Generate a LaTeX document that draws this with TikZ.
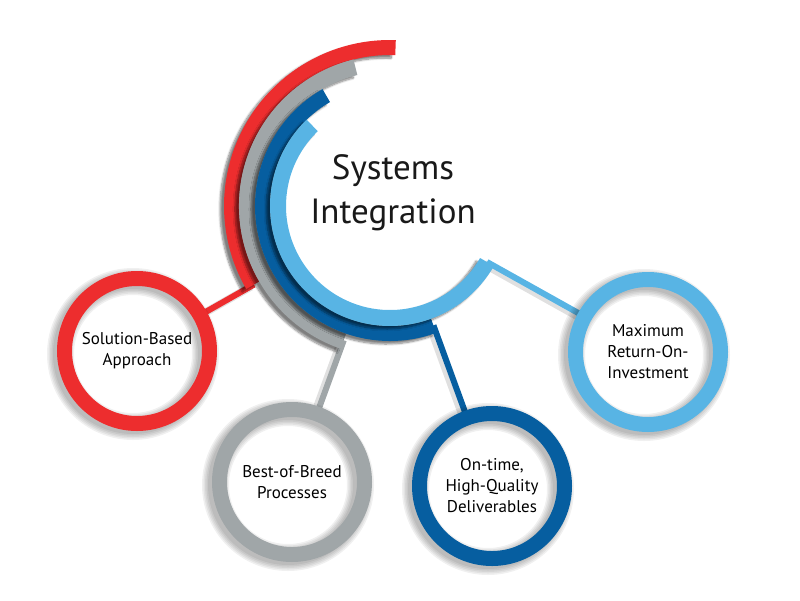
\documentclass[tikz,border=0pt]{standalone}
\usepackage{fontspec}
\setmainfont{PT Sans}
\usetikzlibrary{calc,shadows.blur,backgrounds}
\definecolor{sired}{RGB}{237,45,46}
\definecolor{sigray}{RGB}{160,166,168}
\definecolor{sidblue}{RGB}{6,94,160}
\definecolor{silblue}{RGB}{88,180,228}
\tikzset{
  band/.style={fill=#1,blur shadow={shadow xshift=-4pt,shadow yshift=-3pt,shadow blur steps=8,shadow opacity=50}},
  link/.style={draw=#1,line width=6,shorten >=-5pt,
    preaction={draw=black,draw opacity=.12,line width=8,transform canvas={shift={(-3pt,-2pt)}}}},
  bubble/.style={circle,draw=#1,line width=15,minimum size=145,align=center,
    font=\fontsize{17}{21}\selectfont}
}
\begin{document}
\begin{tikzpicture}[x=1pt,y=-1pt]
  \useasboundingbox (0,0) rectangle (800,600);
  % circles
  \node [bubble=sired] (sol) at (137,351) {Solution-Based\\Approach};
  \node [bubble=sigray] (best) at (292,482) {Best-of-Breed\\Processes};
  \node [bubble=sidblue] (ontime) at (492,486) {On-time,\\High-Quality\\Deliverables};
  \node [bubble=silblue] (roi) at (648,352) {Maximum\\Return-On-\\Investment};
  \node [font=\fontsize{35}{44}\selectfont,align=center,text=black!90] (title) at (393,193) {Systems\\Integration};
  \begin{scope}[on background layer]
    % hub of the arcs
    \coordinate (hub) at (390,206);
    \coordinate (redEnd) at ($(hub)+(-210:157)$);
    \coordinate (grayEnd) at ($(hub)+(-251:142)$);
    \coordinate (dblueEnd) at ($(hub)+(-290:127)$);
    \coordinate (lblueEnd) at ($(hub)+(-330:112)$);
    % connectors
    \draw [link=sired] (redEnd) -- (sol);
    \draw [link=sigray] (grayEnd) -- (best);
    \draw [link=sidblue] (dblueEnd) -- (ontime);
    \draw [link=silblue] (lblueEnd) -- (roi);
    % soft shadows of the rings
    \foreach \n in {sol,best,ontime,roi}
      \foreach \w in {15,18,21,24,27}
        \draw [black,draw opacity=.06,line width=\w] ($(\n.center)+(-4,3)$) circle [radius=72.5];
    % arcs
    \fill [band=sired] (hub) ++(-88:166) arc [start angle=-88,end angle=-210,radius=166]
      -- ($(hub)+(-210:151)$) arc [start angle=-210,end angle=-88,radius=151] -- cycle;
    \fill [band=sigray] (hub) ++(-104:151) arc [start angle=-104,end angle=-251,radius=151]
      -- ($(hub)+(-251:135)$) arc [start angle=-251,end angle=-104,radius=135] -- cycle;
    \fill [band=sidblue] (hub) ++(-120:135) arc [start angle=-120,end angle=-290,radius=135]
      -- ($(hub)+(-290:120)$) arc [start angle=-290,end angle=-120,radius=120] -- cycle;
    \fill [band=silblue] (hub) ++(-134:120) arc [start angle=-134,end angle=-330,radius=120]
      -- ($(hub)+(-330:104)$) arc [start angle=-330,end angle=-134,radius=104] -- cycle;
  \end{scope}
\end{tikzpicture}
\end{document}
